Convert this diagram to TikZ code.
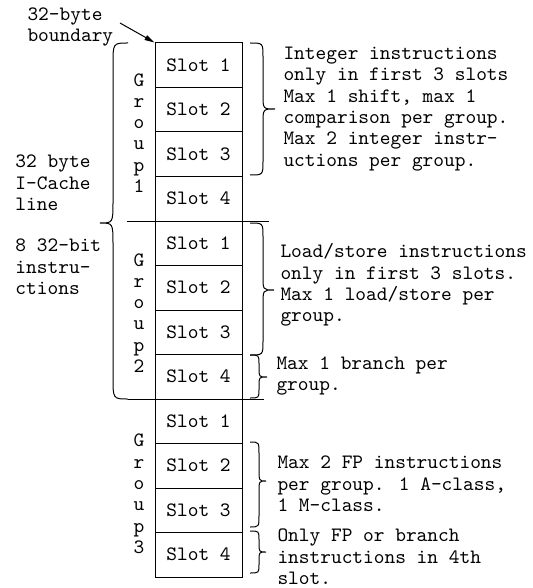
\documentclass[tikz,border=0pt]{standalone}
\usepackage{fontspec}
\usetikzlibrary{arrows.meta}

% Curly brace: #1 end x, #2 spine x, #3 tip x, #4 top y, #5 tip y, #6 bottom y, #7 curl length
\newcommand\drawbrace[7]{%
  \draw (#1,#4) .. controls (#2,#4) .. (#2,{#4+#7}) -- (#2,{#5-#7})
        .. controls (#2,#5) .. (#3,#5)
        .. controls (#2,#5) .. (#2,{#5+#7}) -- (#2,{#6-#7})
        .. controls (#2,#6) .. (#1,#6);}

\begin{document}
\begin{tikzpicture}[x=0.5pt,y=-0.5pt,line width=0.5pt,
  every node/.style={font=\ttfamily\fontsize{10.2}{10.65}\selectfont,inner sep=0pt},
  slotbox/.style={draw,minimum width=43.5pt,minimum height=22.25pt},
  note/.style={anchor=west,align=left},
  letters/.style={align=center}]
\useasboundingbox (0,0) rectangle (532,588);

% the twelve instruction slots of one cache line
\foreach \g in {1,2,3}{
  \foreach \s in {1,...,4}{
    \node[slotbox] (g\g s\s) at (198.5,{43+44.5*(4*(\g-1)+\s-0.5)}) {Slot \s};
  }
}

% group dividers reaching past the column
\draw ([xshift=-14pt]g1s4.south west) -- ([xshift=13pt]g1s4.south east);
\draw ([xshift=-13.5pt]g2s4.south west) -- ([xshift=10.5pt]g2s4.south east);

% group labels, one letter per line
\node[letters] (grp1) at (139,133) {G\\r\\o\\u\\p\\1};
\node[letters] (grp2) at (139,313) {G\\r\\o\\u\\p\\2};
\node[letters] (grp3) at (139,494) {G\\r\\o\\u\\p\\3};

% boundary pointer
\node[note] (bnd) at (27,27) {32-byte\\boundary};
\coordinate (bndtail) at (120,23);
\draw[-{Triangle[length=5pt,width=2.6pt]}] (bndtail) -- (g1s1.north west);

% left-hand description of the whole line
\node[note] (cache) at (15,183) {32 byte\\I-Cache\\line};
\node[note] (instr) at (15,267) {8 32-bit\\instru-\\ctions};
\drawbrace{128}{113}{100}{43}{223}{399}{22}

% slot restrictions
\drawbrace{250}{263}{275}{43}{109}{175}{14}
\node[note] (t1) at (283,109) {Integer instructions\\only in first 3 slots\\Max 1 shift, max 1\\comparison per group.\\Max 2 integer instr-\\uctions per group.};

\drawbrace{250}{263}{274}{223}{290}{355}{14}
\node[note] (t2) at (280,285) {Load/store instructions\\only in first 3 slots.\\Max 1 load/store per\\group.};

\drawbrace{250}{259}{267}{355}{377}{398}{9}
\node[note] (t3) at (276,376) {Max 1 branch per\\group.};

\drawbrace{250}{259}{266}{442}{481}{527}{12}
\node[note] (t4) at (277,484) {Max 2 FP instructions\\per group. 1 A-class,\\1 M-class.};

\drawbrace{250}{259}{266}{531}{552}{573}{9}
\node[note] (t5) at (277,557) {Only FP or branch\\instructions in 4th\\slot.};
\end{tikzpicture}
\end{document}
